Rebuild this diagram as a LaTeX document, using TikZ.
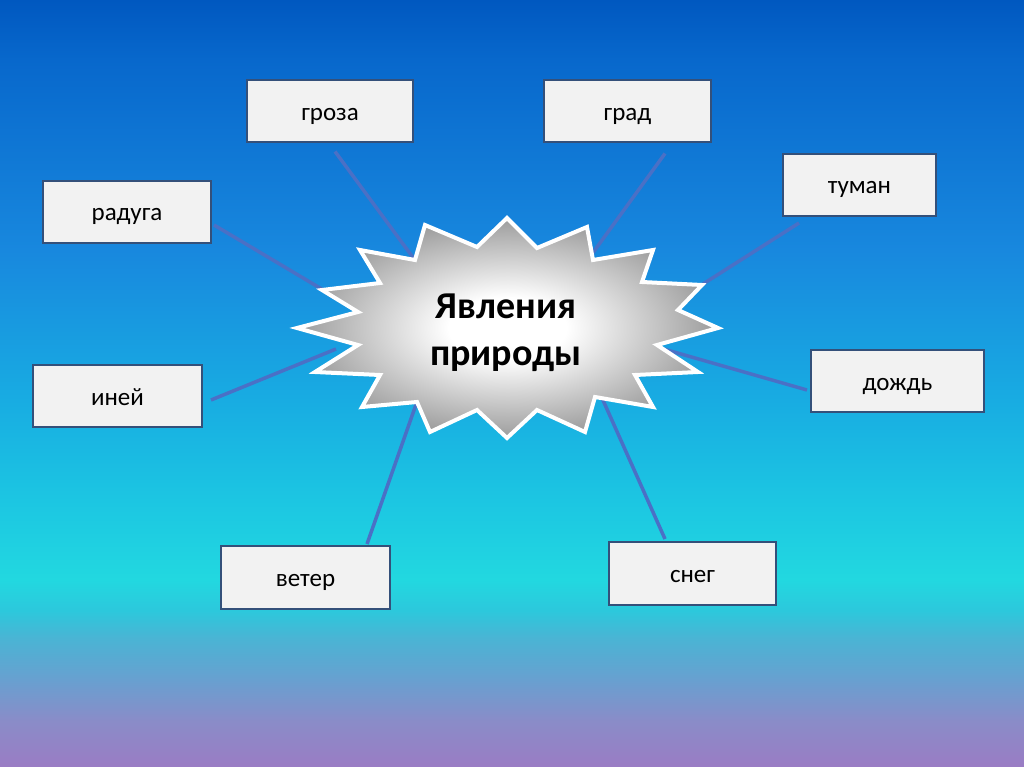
\documentclass[tikz,border=0pt]{standalone}
\usepackage{fontspec}
\setmainfont{Carlito}
\usetikzlibrary{calc}
\definecolor{bgA}{HTML}{0058C0}
\definecolor{bgB}{HTML}{0868CC}
\definecolor{bgC}{HTML}{1888DE}
\definecolor{bgD}{HTML}{18ACE2}
\definecolor{bgE}{HTML}{1CC6E2}
\definecolor{bgF}{HTML}{22D8E0}
\definecolor{bgF2}{HTML}{2CC8DC}
\definecolor{bgG}{HTML}{4AB4D4}
\definecolor{bgH}{HTML}{68A0D0}
\definecolor{bgH2}{HTML}{8A8CC8}
\definecolor{bgI}{HTML}{9A7CC4}
\definecolor{boxborder}{HTML}{34507A}
\definecolor{boxfill}{HTML}{F2F2F2}
\definecolor{linkcol}{HTML}{4A70C6}
\definecolor{staredge}{HTML}{9C9C9C}
% stops: bp = 25 + (767 - y)/767*50
\pgfdeclareverticalshading{bgshade}{100bp}{color(0bp)=(bgI); color(25bp)=(bgI); color(28.0bp)=(bgH2); color(30.7bp)=(bgH); color(33.4bp)=(bgG); color(35.2bp)=(bgF2); color(37.2bp)=(bgF); color(42.4bp)=(bgE); color(48.9bp)=(bgD); color(58.7bp)=(bgC); color(71.1bp)=(bgB); color(75bp)=(bgA); color(100bp)=(bgA)}
\pgfdeclareradialshading{starshade}{\pgfpoint{0bp}{0bp}}{color(0bp)=(white); color(7bp)=(white); color(25bp)=(staredge); color(50bp)=(staredge)}
\tikzset{
  wordbox/.style={draw=boxborder, fill=boxfill, line width=2pt, inner sep=0pt,
    minimum height=62pt, font=\fontsize{25}{30}\selectfont,
    text height=24pt, text depth=6pt},
  link/.style={draw=linkcol, line width=3.5pt},
  titletext/.style={font=\fontsize{38}{47}\selectfont\bfseries, align=center, inner sep=0pt}
}
\begin{document}
\begin{tikzpicture}[x=1pt,y=-1pt]
\useasboundingbox (0,0) rectangle (1024,767);
\fill[shading=bgshade] (0,0) rectangle (1024,767);

% star-end coordinates
\coordinate (sGroza) at (417,263);
\coordinate (sGrad) at (592,254);
\coordinate (sTuman) at (692,291);
\coordinate (sRaduga) at (330,294);
\coordinate (sIney) at (336,349);
\coordinate (sDozhd) at (660,348);
\coordinate (sVeter) at (419,396);
\coordinate (sSneg) at (602,398);

% boxes
\node[wordbox, minimum width=166pt] (groza) at (330,111.5) {гроза};
\node[wordbox, minimum width=167pt] (grad) at (627.5,111.5) {град};
\node[wordbox, minimum width=153pt] (tuman) at (859.5,185) {туман};
\node[wordbox, minimum width=168pt] (raduga) at (127,212) {радуга};
\node[wordbox, minimum width=169pt] (iney) at (117.5,396) {иней};
\node[wordbox, minimum width=173pt] (dozhd) at (897.5,381) {дождь};
\node[wordbox, minimum width=169pt, minimum height=63pt] (veter) at (305.5,577.5) {ветер};
\node[wordbox, minimum width=167pt, minimum height=63pt] (sneg) at (692.5,573.5) {снег};

\draw[link] ([shift={(5,8)}]groza.south) -- (sGroza);
\draw[link] ([shift={(37.5,10)}]grad.south) -- (sGrad);
\draw[link] ([shift={(17,6)}]tuman.south west) -- (sTuman);
\draw[link] ([shift={(2,13)}]raduga.east) -- (sRaduga);
\draw[link] ([shift={(8,4)}]iney.east) -- (sIney);
\draw[link] ([shift={(-3,9)}]dozhd.west) -- (sDozhd);
\draw[link] ([shift={(61.5,-1)}]veter.north) -- (sVeter);
\draw[link] ([shift={(-27.5,-2)}]sneg.north) -- (sSneg);

% starburst
\path[shading=starshade, draw=white, line width=4pt, line join=miter]
  (507,218) -- (537,248) -- (587,227) -- (593,260) -- (653,250) -- (642,282)
  -- (702,285) -- (678,310) -- (718,328) -- (657,345) -- (698,372) -- (635,375)
  -- (653,407) -- (595,397) -- (585,432) -- (537,410) -- (507,438) -- (477,410)
  -- (430,432) -- (417,402) -- (362,407) -- (380,375) -- (315,372) -- (358,345)
  -- (297,328) -- (358,312) -- (322,290) -- (380,283) -- (360,250) -- (415,260)
  -- (425,225) -- (477,247) -- cycle;
\node[titletext] (title) at (506,333) {Явления\\природы};
\end{tikzpicture}
\end{document}
